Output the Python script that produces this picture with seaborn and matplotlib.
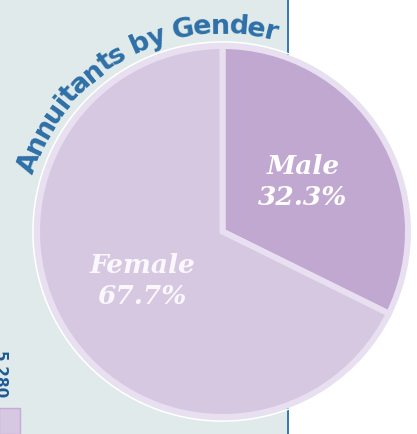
import numpy as np
import matplotlib
matplotlib.use("Agg")
import matplotlib.pyplot as plt
import seaborn as sns
from matplotlib.patches import Rectangle, Circle
from matplotlib.font_manager import FontProperties
from matplotlib.textpath import TextToPath

# data
genders = ["Male", "Female"]
shares = [32.3, 67.7]
slice_colors = ["#c1a8d0", "#d7c8e2"]
title = "Annuitants by Gender"
side_label = "5,280"

sns.set_style("white")

W, H = 417, 434
fig = plt.figure(figsize=(W / 100, H / 100), dpi=100)
ax = fig.add_axes([0, 0, 1, 1])
PT = 72 / 100  # points per pixel

# left panel + blue border
ax.add_patch(Rectangle((0, 0), 288, H, facecolor="#e1eaea", edgecolor="none", zorder=0))
ax.plot([288, 288], [0, H], color="#3a7ab4", lw=2 * PT, zorder=1)

# pie (pixel coords, y up)
cx, cy = 222.5, H - 231.5
r_pie = 185.5
lab_iter = iter(genders)
wedges, texts, autotexts = ax.pie(
    shares, colors=slice_colors, startangle=90, counterclock=False,
    center=(cx, cy), radius=r_pie, frame=True,
    autopct=lambda p: f"{next(lab_iter)}\n{p:.1f}%", pctdistance=0.51,
    wedgeprops=dict(edgecolor="#e8dff0", linewidth=6 * PT),
)
for t, col in zip(autotexts, ["white", "#faf8fc"]):
    t.set_fontfamily("DejaVu Serif")
    t.set_fontstyle("italic")
    t.set_fontweight("bold")
    t.set_fontsize(19)
    t.set_color(col)
    t.set_linespacing(1.3)
ax.add_patch(Circle((cx, cy), 189.6, fill=False, edgecolor="white", lw=1.5 * PT, zorder=3))

# curved title
fp = FontProperties(family="DejaVu Sans", weight="bold", size=19.5)
t2p = TextToPath()


def width_px(s):
    w, h, d = t2p.get_text_width_height_descent(s, fp, ismath=False)
    return w * 100 / 72


advs = np.array([width_px("H" + c + "H") - width_px("HH") for c in title])
centers = np.cumsum(advs) - advs / 2
mid = (centers[0] + centers[-1]) / 2
R_base = 198
R_arc = (centers[-1] - centers[0]) / np.deg2rad(84)
th_mid = np.deg2rad(118.3)
for c, p in zip(title, centers):
    th = th_mid - (p - mid) / R_arc
    ax.text(cx + R_base * np.cos(th), cy + R_base * np.sin(th), c,
            rotation=np.rad2deg(th) - 90, rotation_mode="anchor",
            ha="center", va="baseline", fontproperties=fp, color="#2d70a7", zorder=4)

# cropped bits at the bottom-left
ax.text(-1, H - 375, side_label, rotation=270, ha="center", va="center",
        fontsize=11, fontweight="bold", color="#1d5a94")
ax.add_patch(Rectangle((-1, 0), 21, 26, facecolor="#d7c8e2", edgecolor="#c3abd3", lw=1, zorder=2))

ax.set_xlim(0, W)
ax.set_ylim(0, H)
ax.set_aspect("auto")
ax.axis("off")
fig.savefig("out.png", dpi=100)
